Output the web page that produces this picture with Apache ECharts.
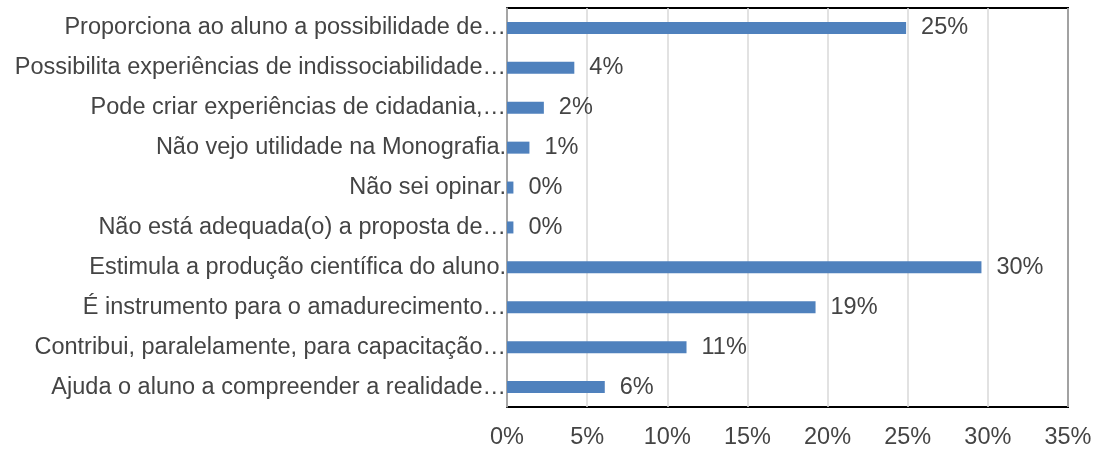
<!DOCTYPE html>
<html>
<head>
<meta charset="utf-8">
<script src="https://cdn.jsdelivr.net/npm/echarts@6/dist/echarts.min.js"></script>
<style>
  html, body { margin: 0; padding: 0; background: #fff; }
  #chart { width: 1096px; height: 450px; }
</style>
</head>
<body>
<div id="chart"></div>
<script>
// categories, top to bottom as in the picture
var categorias = [
    "Proporciona ao aluno a possibilidade de…",
    "Possibilita experiências de indissociabilidade…",
    "Pode criar experiências de cidadania,…",
    "Não vejo utilidade na Monografia.",
    "Não sei opinar.",
    "Não está adequada(o) a proposta de…",
    "Estimula a produção científica do aluno.",
    "É instrumento para o amadurecimento…",
    "Contribui, paralelamente, para capacitação…",
    "Ajuda o aluno a compreender a realidade…"
];
// percent values
var valores = [24.9, 4.2, 2.3, 1.4, 0.4, 0.4, 29.6, 19.25, 11.2, 6.1];
var ticksX = [0, 5, 10, 15, 20, 25, 30, 35];

var fonte = "Liberation Sans, Arial, sans-serif";
var corTexto = "#444";

var myChart = echarts.init(document.getElementById('chart'));
myChart.setOption({
    animation: false,
    grid: {
        left: 507,
        right: 28,
        top: 8,
        bottom: 42,
        show: true,
        borderColor: "#000",
        borderWidth: 2
    },
    xAxis: {
        type: "value",
        min: ticksX[0],
        max: ticksX[ticksX.length - 1],
        interval: 5,
        axisLine: { show: false },
        axisTick: { show: false },
        splitLine: { lineStyle: { color: "#d9d9d9", width: 1.5 } },
        axisLabel: {
            margin: 19,
            color: corTexto,
            fontSize: 23.5,
            fontFamily: fonte,
            formatter: function (v) { return v + "%"; }
        }
    },
    yAxis: {
        type: "category",
        inverse: true,
        data: categorias,
        axisLine: { show: true, lineStyle: { color: "#a6a6a6", width: 1.5 } },
        axisTick: { show: false },
        axisLabel: {
            margin: 1,
            padding: [4, 0, 0, 0],
            color: corTexto,
            fontSize: 23.5,
            fontFamily: fonte
        }
    },
    series: [{
        type: "bar",
        data: valores,
        barWidth: 12,
        itemStyle: { color: "#4f81bd" },
        label: {
            show: true,
            position: "right",
            distance: 15,
            padding: [4, 0, 0, 0],
            color: corTexto,
            fontSize: 23.5,
            fontFamily: fonte,
            formatter: function (p) { return Math.round(p.value) + "%"; }
        }
    }]
});

window.onresize = function () {
    myChart.resize();
}
</script>
</body>
</html>
